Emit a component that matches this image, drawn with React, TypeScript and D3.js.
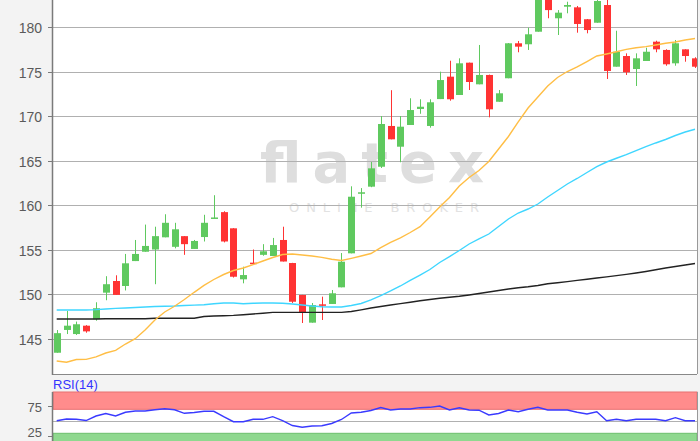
import React, { useEffect, useRef } from 'react';
import * as d3 from 'd3';

// daily candles, oldest first
const opens = [143.4, 145.96, 145.5, 146.44, 147.16, 150.15, 151.46, 150.9, 153.7, 154.75, 155.0, 156.37, 155.3, 156.5, 155.06, 156.4, 158.5, 159.2, 157.38, 151.65, 153.52, 154.4, 154.27, 156.07, 153.48, 149.89, 146.78, 148.84, 148.88, 150.75, 154.57, 161.3, 162.06, 164.3, 168.88, 166.55, 168.99, 170.79, 168.88, 171.9, 174.42, 172.36, 175.99, 173.56, 174.61, 171.6, 174.24, 178.17, 178.06, 179.47, 183.5, 180.98, 182.28, 182.21, 180.87, 180.48, 182.47, 175.54, 176.74, 175.28, 176.18, 178.35, 177.42, 175.92, 177.49, 176.48];
const highs = [145.95, 148.1, 146.9, 146.5, 149.07, 152.0, 152.1, 154.5, 156.07, 157.8, 157.56, 158.96, 158.0, 156.5, 156.07, 158.9, 161.1, 159.3, 157.4, 153.07, 155.0, 155.6, 156.3, 157.56, 153.5, 149.9, 148.99, 149.7, 150.45, 154.6, 162.1, 161.9, 164.83, 170.0, 172.9, 170.0, 171.99, 171.88, 171.88, 174.98, 176.21, 176.48, 176.0, 177.98, 174.65, 172.92, 178.2, 178.43, 179.92, 184.2, 184.0, 181.9, 182.84, 182.36, 180.9, 183.2, 183.2, 179.58, 177.04, 177.04, 177.67, 178.46, 177.5, 178.54, 177.5, 176.6];
const lows = [143.4, 145.5, 145.4, 145.65, 147.0, 149.3, 149.9, 150.4, 153.7, 154.75, 151.1, 156.37, 155.13, 154.4, 155.06, 155.9, 158.46, 155.8, 151.85, 151.2, 153.37, 154.3, 154.27, 153.65, 148.99, 146.74, 146.78, 147.08, 148.88, 150.75, 154.57, 159.7, 162.0, 164.16, 167.38, 164.8, 168.99, 170.25, 168.69, 171.9, 171.72, 172.36, 172.92, 173.56, 169.85, 171.6, 174.24, 177.16, 177.42, 179.47, 180.98, 179.1, 181.54, 179.36, 179.29, 180.48, 174.16, 175.54, 174.61, 173.37, 176.18, 177.16, 175.65, 175.65, 176.1, 175.4];
const closes = [145.6, 146.44, 146.6, 145.8, 148.4, 151.1, 149.9, 153.45, 154.5, 155.4, 156.5, 158.0, 157.27, 155.6, 155.96, 158.0, 158.6, 155.9, 151.94, 152.13, 153.37, 154.8, 155.5, 153.65, 149.13, 147.87, 148.76, 148.71, 150.08, 153.63, 160.93, 161.43, 164.12, 169.1, 167.38, 168.8, 170.67, 171.04, 171.54, 174.04, 171.88, 175.92, 173.82, 174.61, 170.75, 172.55, 178.17, 177.79, 179.18, 183.8, 181.9, 181.61, 182.47, 180.34, 179.66, 182.92, 175.06, 177.22, 174.91, 176.48, 177.22, 177.49, 175.81, 178.17, 176.74, 175.54];

// moving averages as drawn on the chart
const sma20 = [142.47, 142.33, 142.64, 142.66, 142.94, 143.37, 143.67, 144.38, 144.98, 145.96, 147.08, 147.98, 148.62, 149.38, 150.19, 150.96, 151.63, 152.19, 152.64, 152.92, 153.31, 153.71, 154.1, 154.44, 154.49, 154.38, 154.27, 154.12, 153.9, 153.76, 154.01, 154.27, 154.55, 155.22, 155.79, 156.31, 156.91, 157.56, 158.65, 159.78, 160.84, 162.13, 163.09, 163.88, 164.89, 166.29, 167.7, 169.33, 170.9, 172.13, 173.37, 174.33, 175.0, 175.51, 176.12, 176.74, 176.97, 177.22, 177.49, 177.67, 177.79, 177.98, 178.17, 178.31, 178.54, 178.71];
const sma50 = [148.2, 148.2, 148.2, 148.2, 148.24, 148.31, 148.39, 148.43, 148.48, 148.54, 148.6, 148.63, 148.65, 148.71, 148.75, 148.79, 148.9, 148.99, 148.99, 148.9, 148.96, 148.99, 148.99, 148.96, 148.88, 148.76, 148.65, 148.57, 148.54, 148.54, 148.71, 148.93, 149.33, 149.83, 150.34, 150.9, 151.52, 152.13, 152.75, 153.54, 154.21, 154.89, 155.62, 156.18, 156.74, 157.58, 158.43, 159.1, 159.55, 160.11, 160.9, 161.63, 162.36, 162.98, 163.65, 164.3, 164.83, 165.25, 165.67, 166.12, 166.55, 166.97, 167.36, 167.81, 168.2, 168.51];
const sma200 = [147.19, 147.19, 147.19, 147.19, 147.19, 147.22, 147.22, 147.22, 147.22, 147.22, 147.27, 147.27, 147.27, 147.27, 147.27, 147.47, 147.53, 147.56, 147.6, 147.67, 147.76, 147.84, 147.94, 147.94, 147.94, 147.94, 147.94, 147.94, 147.94, 147.94, 148.03, 148.22, 148.43, 148.6, 148.76, 148.92, 149.08, 149.24, 149.38, 149.52, 149.64, 149.74, 149.89, 150.06, 150.22, 150.39, 150.56, 150.7, 150.81, 150.95, 151.15, 151.26, 151.39, 151.53, 151.66, 151.8, 151.93, 152.07, 152.21, 152.36, 152.53, 152.72, 152.92, 153.09, 153.26, 153.43];
const rsi14 = [51, 53.8, 53.5, 51.3, 58.8, 63, 58.8, 65, 67.2, 67.2, 69.2, 71, 69.2, 63.3, 64.7, 66.7, 66.7, 57.7, 49.3, 49.3, 53.3, 53.3, 57.7, 51.3, 43, 40, 42.2, 42.7, 46.3, 53, 63.8, 65, 68, 73, 68.8, 70.5, 70.5, 72.7, 73.3, 75.5, 68.8, 72.5, 68.8, 68.5, 60.5, 63, 68.8, 66, 70, 73.3, 68.8, 68.8, 68.8, 65, 62.2, 66, 51, 53.3, 51, 53.3, 53.3, 53.3, 51, 56, 51, 51];

const priceTicks = [145, 150, 155, 160, 165, 170, 175, 180];
const rsiTicks = [25, 75];
const rsiBands = [30, 70];

const App = () => {
    const svgRef = useRef<SVGSVGElement>(null);

    useEffect(() => {
        const svg = d3.select(svgRef.current);
        svg.selectAll('*').remove();

        const left = 53;
        const right = 697;
        const mainBottom = 374;
        const rsiTop = 392;
        const font = "'Liberation Sans', Arial, sans-serif";

        const x = d3.scaleLinear().domain([0, closes.length - 1]).range([56.7, 695]);
        const y = d3.scaleLinear().domain([145, 180]).range([338.5, 27]);
        const yRsi = d3.scaleLinear().domain([0, 100]).range([451.3, 391.3]);

        svg.append('rect').attr('width', 700).attr('height', 441).attr('fill', '#f3f3f3');
        svg.append('rect').attr('x', left).attr('y', 0).attr('width', right - left).attr('height', mainBottom)
            .attr('fill', '#fff');
        svg.append('rect').attr('x', left).attr('y', rsiTop).attr('width', right - left).attr('height', 441 - rsiTop)
            .attr('fill', '#fff');

        svg.append('clipPath').attr('id', 'main-clip')
            .append('rect').attr('x', left).attr('y', 0).attr('width', right - left).attr('height', mainBottom);

        // watermark
        svg.append('text')
            .attr('x', 260).attr('y', 182)
            .attr('textLength', 224).attr('lengthAdjust', 'spacing')
            .style('font-family', "'DejaVu Sans', sans-serif").style('font-weight', 'bold').style('font-size', '56px')
            .attr('fill', '#dedede')
            .text('flatex');
        svg.append('text')
            .attr('x', 289).attr('y', 212)
            .attr('textLength', 190).attr('lengthAdjust', 'spacing')
            .style('font-family', "'DejaVu Sans', sans-serif").style('font-size', '13px')
            .attr('fill', '#e2e2e2')
            .text('ONLINE BROKER');

        // grid
        svg.append('g').selectAll('line').data(priceTicks).join('line')
            .attr('x1', left).attr('x2', right)
            .attr('y1', (d) => Math.round(y(d)) + 0.5).attr('y2', (d) => Math.round(y(d)) + 0.5)
            .attr('stroke', '#b0b0b0').attr('stroke-width', 1);

        const plot = svg.append('g').attr('clip-path', 'url(#main-clip)');
        const idx = d3.range(closes.length);
        const up = (i: number) => closes[i] >= opens[i];
        const color = (i: number) => (up(i) ? '#5fc95f' : '#ff3333');

        plot.append('g').selectAll('line').data(idx).join('line')
            .attr('x1', (i) => Math.round(x(i)) + 0.5).attr('x2', (i) => Math.round(x(i)) + 0.5)
            .attr('y1', (i) => y(highs[i])).attr('y2', (i) => y(lows[i]))
            .attr('stroke', color).attr('stroke-width', 1);

        plot.append('g').selectAll('rect').data(idx).join('rect')
            .attr('x', (i) => Math.round(x(i)) - 3)
            .attr('width', 7)
            .attr('y', (i) => y(Math.max(opens[i], closes[i])))
            .attr('height', (i) => Math.max(1.5, Math.abs(y(opens[i]) - y(closes[i]))))
            .attr('fill', color);

        const maLine = (vals: number[]) => d3.line<number>().x((d, i) => x(i)).y((d) => y(d))(vals);
        [[sma200, '#222'], [sma50, '#3fd6ff'], [sma20, '#ffbe45']].forEach(([vals, c]) => {
            plot.append('path')
                .attr('d', maLine(vals as number[]))
                .attr('fill', 'none').attr('stroke', c as string).attr('stroke-width', 1.4);
        });

        // frame & price axis
        svg.append('line').attr('x1', left - 0.5).attr('x2', right).attr('y1', mainBottom + 0.5).attr('y2', mainBottom + 0.5)
            .attr('stroke', '#888');
        svg.append('line').attr('x1', right + 0.5).attr('x2', right + 0.5).attr('y1', 0).attr('y2', mainBottom)
            .attr('stroke', '#999');
        svg.append('line').attr('x1', left - 0.5).attr('x2', left - 0.5).attr('y1', 0).attr('y2', mainBottom + 1)
            .attr('stroke', '#7a7a7a').attr('stroke-width', 1.5);

        const yAxis = svg.append('g');
        yAxis.selectAll('line').data(priceTicks).join('line')
            .attr('x1', left - 5).attr('x2', left)
            .attr('y1', (d) => Math.round(y(d)) + 0.5).attr('y2', (d) => Math.round(y(d)) + 0.5)
            .attr('stroke', '#7a7a7a');
        yAxis.selectAll('text').data(priceTicks).join('text')
            .attr('x', 42).attr('y', (d) => y(d) + 6)
            .attr('text-anchor', 'end')
            .style('font-family', font).style('font-size', '14px')
            .attr('fill', '#5a5a5a')
            .text((d) => d);

        // RSI panel
        svg.append('text')
            .attr('x', 53).attr('y', 389)
            .style('font-family', font).style('font-size', '13px')
            .attr('fill', '#3434ff')
            .text('RSI(14)');

        svg.append('rect')
            .attr('x', left).attr('width', right - left)
            .attr('y', rsiTop).attr('height', yRsi(rsiBands[1]) - rsiTop)
            .attr('fill', '#ff8c8c').attr('stroke', '#e87070').attr('stroke-width', 1);
        svg.append('rect')
            .attr('x', left).attr('width', right - left)
            .attr('y', yRsi(rsiBands[0])).attr('height', 441 - yRsi(rsiBands[0]) + 2)
            .attr('fill', '#8fd88f').attr('stroke', '#6cbf6c').attr('stroke-width', 1);
        svg.append('line')
            .attr('x1', left).attr('x2', right)
            .attr('y1', Math.round(yRsi(50)) + 0.5).attr('y2', Math.round(yRsi(50)) + 0.5)
            .attr('stroke', '#b0b0b0');

        svg.append('path')
            .attr('d', d3.line<number>().x((d, i) => x(i)).y((d) => yRsi(d))(rsi14))
            .attr('fill', 'none').attr('stroke', '#3a3aff').attr('stroke-width', 1.4);

        svg.append('line').attr('x1', right + 0.5).attr('x2', right + 0.5).attr('y1', rsiTop).attr('y2', 441)
            .attr('stroke', '#999');
        svg.append('line').attr('x1', left - 0.5).attr('x2', left - 0.5).attr('y1', rsiTop).attr('y2', 441)
            .attr('stroke', '#7a7a7a').attr('stroke-width', 1.5);

        const rAxis = svg.append('g');
        rAxis.selectAll('line').data(rsiTicks).join('line')
            .attr('x1', left - 5).attr('x2', left)
            .attr('y1', (d) => Math.round(yRsi(d)) + 0.5).attr('y2', (d) => Math.round(yRsi(d)) + 0.5)
            .attr('stroke', '#7a7a7a');
        rAxis.selectAll('text').data(rsiTicks).join('text')
            .attr('x', 42).attr('y', (d) => Math.min(yRsi(d) + 6, 437))
            .attr('text-anchor', 'end')
            .style('font-family', font).style('font-size', '13px')
            .attr('fill', '#5a5a5a')
            .text((d) => d);
    }, []);

    return (
        <div style={{ position: 'absolute', left: 0, top: 0 }}>
            <svg ref={svgRef} width={700} height={441} style={{ display: 'block' }} />
        </div>
    );
};

export default App;
